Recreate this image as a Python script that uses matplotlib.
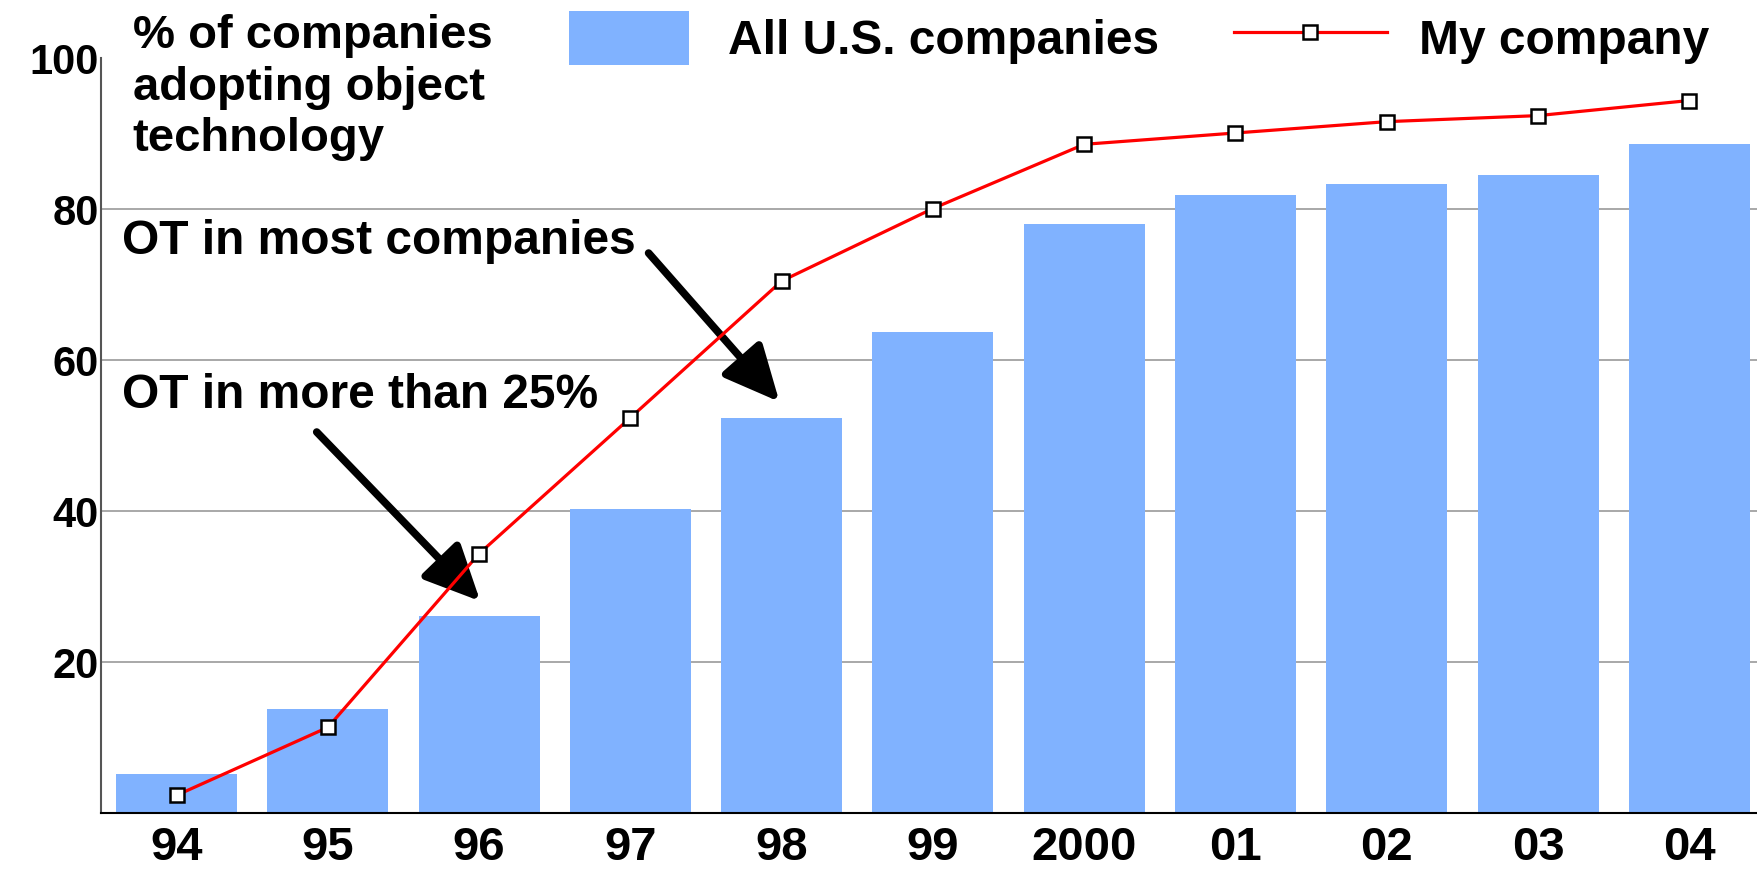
import matplotlib
matplotlib.use("Agg")
import matplotlib.pyplot as plt
from matplotlib.patches import Patch
from matplotlib.lines import Line2D
from matplotlib.legend_handler import HandlerPatch, HandlerLine2D

years = ["94", "95", "96", "97", "98", "99", "2000", "01", "02", "03", "04"]
all_us = [5.2, 13.8, 26.1, 40.3, 52.4, 63.7, 78.1, 81.9, 83.4, 84.6, 88.6]
my_company = [2.4, 11.4, 34.4, 52.4, 70.5, 80.1, 88.6, 90.1, 91.6, 92.4, 94.4]
yticks = [20, 40, 60, 80, 100]

FONT = ["Liberation Sans", "DejaVu Sans"]


class NarrowPatch(HandlerPatch):
    def create_artists(self, legend, orig_handle, xdescent, ydescent, width, height,
                       fontsize, trans):
        return super().create_artists(legend, orig_handle, xdescent, ydescent,
                                      width * 0.857, height, fontsize, trans)


class ShiftedLine(HandlerLine2D):
    def create_artists(self, legend, orig_handle, xdescent, ydescent, width, height,
                       fontsize, trans):
        return super().create_artists(legend, orig_handle, xdescent + 0.186 * width,
                                      ydescent, width * 1.096, height, fontsize, trans)


fig = plt.figure(figsize=(17.57, 8.69), dpi=100)
ax = fig.add_axes([0.0575, 0.064, 0.947, 0.869])

x = list(range(len(years)))
ax.bar(x, all_us, width=0.8, color="#80B2FF", zorder=2)
ax.plot(x, my_company, color="#FF0000", lw=2.3, marker="s", markersize=10.5,
        markerfacecolor="white", markeredgecolor="black", markeredgewidth=1.8, zorder=4)

ax.set_xlim(-0.5, 10.5)
ax.set_ylim(0, 100)
ax.set_yticks(yticks)
for yv in yticks[:-1]:
    ax.axhline(yv, color="#999999", lw=1.2, zorder=1)

ax.set_xticks(x)
ax.set_xticklabels(years)
for lab in ax.get_xticklabels():
    lab.set_fontfamily(FONT)
    lab.set_fontweight("bold")
    lab.set_fontsize(34)
for lab in ax.get_yticklabels():
    lab.set_fontfamily(FONT)
    lab.set_fontweight("bold")
    lab.set_fontsize(30)
ax.tick_params(axis="both", length=0)
ax.tick_params(axis="x", pad=9)
ax.tick_params(axis="y", pad=1.5)

for s in ["top", "right"]:
    ax.spines[s].set_visible(False)
ax.spines["left"].set_color("#555555")
ax.spines["left"].set_linewidth(1.5)
ax.spines["bottom"].set_color("black")
ax.spines["bottom"].set_linewidth(1.5)

ax.text(-0.29, 105.8, "% of companies\nadopting object\ntechnology", fontsize=34,
        fontweight="bold", family=FONT, va="top", ha="left", linespacing=1.21)
ax.text(-0.363, 75.7, "OT in most companies", fontsize=34.5, fontweight="bold",
        family=FONT, va="center", ha="left")
ax.text(-0.363, 55.4, "OT in more than 25%", fontsize=34.5, fontweight="bold",
        family=FONT, va="center", ha="left")

arrow_kw = dict(arrowstyle="-|>,head_length=3.4,head_width=1.6", color="black", lw=5.5,
                shrinkA=0, shrinkB=0)
ax.annotate("", xy=(2.007, 28.1), xytext=(0.926, 50.5), arrowprops=arrow_kw, zorder=3)
ax.annotate("", xy=(3.985, 54.5), xytext=(3.12, 74.2), arrowprops=arrow_kw, zorder=3)

bar_handle = Patch(facecolor="#80B2FF", edgecolor="none")
line_handle = Line2D([0], [0], color="#FF0000", lw=2.3, marker="s", markersize=10.5,
                     markerfacecolor="white", markeredgecolor="black", markeredgewidth=1.8)
leg = fig.legend([bar_handle, line_handle], ["All U.S. companies", "My company"], ncol=2,
                 loc="upper left", bbox_to_anchor=(0.3238, 0.9873), frameon=False,
                 borderpad=0, borderaxespad=0,
                 prop={"family": FONT, "weight": "bold", "size": 34.5},
                 handlelength=2.92, handleheight=1.35, handletextpad=0.4, columnspacing=2.1,
                 handler_map={Patch: NarrowPatch(), Line2D: ShiftedLine()})

fig.savefig("out.png", dpi=100)
